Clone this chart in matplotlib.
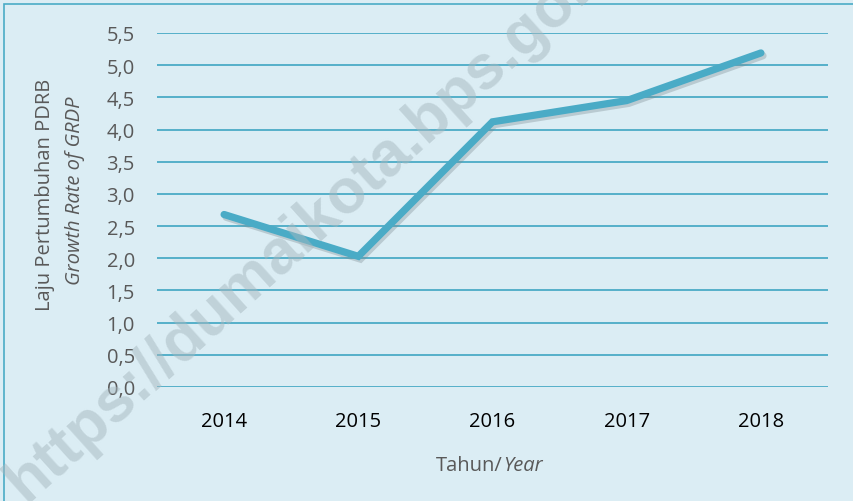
import matplotlib
matplotlib.use("Agg")
import matplotlib.pyplot as plt
import matplotlib.patheffects as pe
from matplotlib.patches import Rectangle

years = ["2014", "2015", "2016", "2017", "2018"]
growth = [2.68, 2.03, 4.12, 4.45, 5.19]
yticks = [0.0, 0.5, 1.0, 1.5, 2.0, 2.5, 3.0, 3.5, 4.0, 4.5, 5.0, 5.5]

BG = "#dbedf4"
TEAL = "#4aabc6"
W, H = 854, 502

plt.rcParams["font.family"] = ["Open Sans", "DejaVu Sans"]

fig = plt.figure(figsize=(W / 100, H / 100), dpi=100, facecolor=BG)
ax = fig.add_axes([157 / W, 1 - 388 / H, (828 - 157) / W, (388 - 34) / H])
ax.set_facecolor(BG)

# border of the chart area
fig.patches.append(Rectangle((4 / W, -0.1), 1.1, 1 - 5 / H + 0.1, transform=fig.transFigure,
                             fill=False, edgecolor=TEAL, linewidth=1.2))

x = range(len(years))
for v in yticks:
    ax.axhline(v, color=TEAL, linewidth=1.3, zorder=1)
ax.plot(x, growth, color=TEAL, linewidth=5.2, solid_capstyle="round", solid_joinstyle="miter",
        zorder=3,
        path_effects=[pe.SimpleLineShadow(offset=(1.5, -2), shadow_color="#7a8a90", alpha=0.35),
                      pe.Normal()])

ax.set_xlim(-0.5, len(years) - 0.5)
ax.set_ylim(0, 5.5)
ax.set_xticks(list(x))
ax.set_xticklabels(years, fontsize=14.5, color="#000000")
ax.set_yticks(yticks)
ax.set_yticklabels([f"{v:.1f}".replace(".", ",") for v in yticks], fontsize=14.5, color="#595959")
ax.tick_params(length=0, axis="y", pad=16)
ax.tick_params(length=0, axis="x", pad=17)
for s in ax.spines.values():
    s.set_visible(False)

# axis titles (mixed roman / italic)
fig.text(45 / W, 1 - 195 / H, "Laju Pertumbuhan PDRB", rotation=90, ha="center", va="center",
         fontsize=14.5, color="#595959")
fig.text(75 / W, 1 - 191 / H, "Growth Rate of GRDP", rotation=90, ha="center", va="center",
         fontsize=14.5, color="#595959", style="italic")
fig.text(503 / W, 1 - 466 / H, "Tahun/", ha="right", va="center", fontsize=14.5, color="#595959")
fig.text(503 / W, 1 - 466 / H, "Year", ha="left", va="center", fontsize=14.5, color="#595959",
         style="italic")

# watermark
fig.text(318 / W, 1 - 218 / H, "https://dumaikota.bps.go.id", rotation=42, ha="center",
         va="center", fontsize=45, fontweight="bold", family="Liberation Sans",
         color="#a6b8bf", alpha=0.5, zorder=10)

fig.savefig("out.png", dpi=100, facecolor=BG)
